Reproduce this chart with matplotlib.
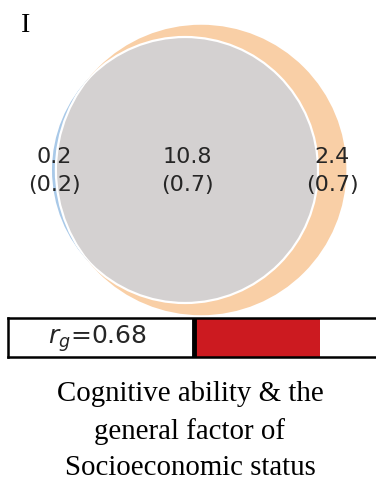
import numpy as np
import matplotlib.pyplot as plt
from matplotlib.patches import Circle

# ----- data -----
region_labels = ["0.2", "10.8", "2.4"]      # A only, A & B, B only (as printed)
region_se = ["0.2", "0.7", "0.7"]
region_areas = [0.1, 10.8, 2.2]            # unrounded sizes estimated from the circles
rg = 0.68
panel_letter = "I"
caption = "Cognitive ability & the\ngeneral factor of\nSocioeconomic status"

col_a = "#a9c9e8"
col_b = "#f9cfa6"
col_ab = "#d4d1d1"
col_bar = "#cc1a20"


def overlap_area(r1, r2, d):
    if d >= r1 + r2:
        return 0.0
    if d <= abs(r1 - r2):
        return np.pi * min(r1, r2) ** 2
    a1 = r1 ** 2 * np.arccos((d ** 2 + r1 ** 2 - r2 ** 2) / (2 * d * r1))
    a2 = r2 ** 2 * np.arccos((d ** 2 + r2 ** 2 - r1 ** 2) / (2 * d * r2))
    a3 = 0.5 * np.sqrt((-d + r1 + r2) * (d + r1 - r2) * (d - r1 + r2) * (d + r1 + r2))
    return a1 + a2 - a3


area_a = region_areas[0] + region_areas[1]
area_b = region_areas[1] + region_areas[2]
r1 = np.sqrt(area_a / np.pi)
r2 = np.sqrt(area_b / np.pi)

# bisection for centre distance
lo, hi = abs(r1 - r2), r1 + r2
for _ in range(100):
    mid = (lo + hi) / 2
    if overlap_area(r1, r2, mid) > region_areas[1]:
        lo = mid
    else:
        hi = mid
d = (lo + hi) / 2

c1 = (0.0, 0.0)
c2 = (d, 0.0)

W, H = 376, 481
fig = plt.figure(figsize=(W / 100, H / 100), dpi=100)

# venn axes covers whole figure, scaled so blue circle sits where it should
scale = 133 / r1   # px per unit
cx_px, cy_px = 185, 171
ax = fig.add_axes([0, 0, 1, 1])
ax.set_xlim(-cx_px / scale, (W - cx_px) / scale)
ax.set_ylim(-(H - cy_px) / scale, cy_px / scale)
ax.axis("off")

circ_a = Circle(c1, r1, facecolor=col_a, edgecolor="none")
circ_b = Circle(c2, r2, facecolor=col_b, edgecolor="none")
ax.add_patch(circ_a)
ax.add_patch(circ_b)
inter = Circle(c1, r1, facecolor=col_ab, edgecolor="none")
ax.add_patch(inter)
inter.set_clip_path(circ_b)
# white outline round the overlap
edge_a = Circle(c1, r1, facecolor="none", edgecolor="white", lw=1.6)
ax.add_patch(edge_a)
edge_a.set_clip_path(Circle(c2, r2, transform=ax.transData))
edge_b = Circle(c2, r2, facecolor="none", edgecolor="white", lw=1.6)
ax.add_patch(edge_b)
edge_b.set_clip_path(Circle(c1, r1, transform=ax.transData))

# label positions: middle of each region along the centre line
xa = ((c1[0] - r1) + (c2[0] - r2)) / 2
xab = ((c2[0] - r2) + (c1[0] + r1)) / 2
xb = ((c1[0] + r1) + (c2[0] + r2)) / 2
for x, v, se in zip([xa, xab, xb], region_labels, region_se):
    ax.text(x, 0, f"{v}\n({se})", ha="center", va="center", fontsize=16,
            color="#262626", linespacing=1.5)

fig.text(21 / W, 1 - 25 / H, panel_letter, family="Liberation Serif",
         fontsize=20, ha="left", va="center")

# rg bar
bx = fig.add_axes([8 / W, 1 - 358 / H, 372 / W, 39 / H])
bx.set_xlim(-1, 1)
bx.set_ylim(0, 1)
bx.barh(0.5, rg, height=1.0, left=0, color=col_bar)
bx.axvline(0, color="black", lw=3.5)
bx.text(-0.52, 0.5, f"$r_g$={rg}", ha="center", va="center", fontsize=18,
        color="#262626")
bx.set_xticks([])
bx.set_yticks([])
for s in bx.spines.values():
    s.set_linewidth(1.8)

fig.text(190 / W, 1 - 431 / H, caption, family="Liberation Serif",
         fontsize=20.8, ha="center", va="center", linespacing=1.5)

fig.savefig("out.png", dpi=100)
